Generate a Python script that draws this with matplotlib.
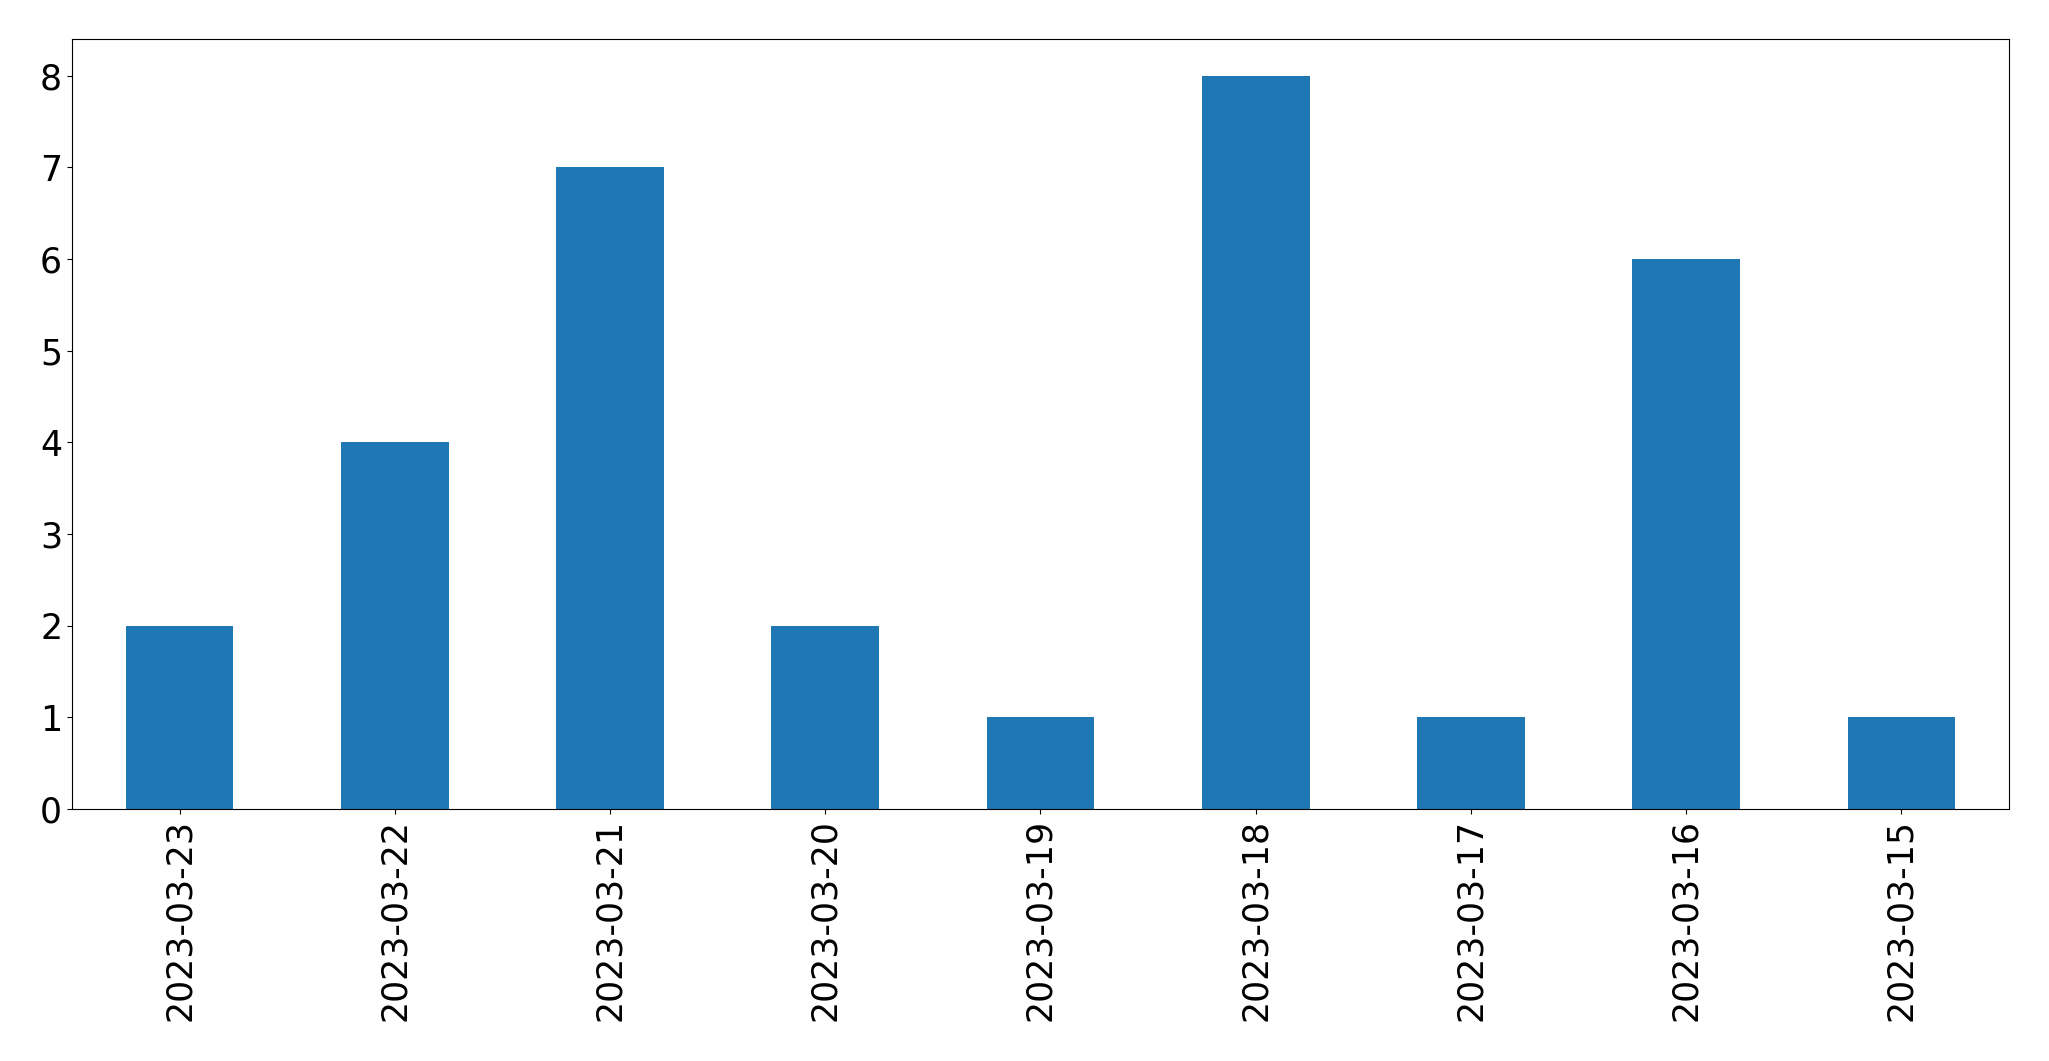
import matplotlib
matplotlib.use("Agg")
import matplotlib.pyplot as plt
import numpy as np

dates = ["2023-03-23", "2023-03-22", "2023-03-21", "2023-03-20", "2023-03-19",
         "2023-03-18", "2023-03-17", "2023-03-16", "2023-03-15"]
counts = [2, 4, 7, 2, 1, 8, 1, 6, 1]

fig = plt.figure(figsize=(20.49, 10.61), dpi=100)
ax = fig.add_axes([0.0351, 0.2375, 0.9454, 0.7257])

x = np.arange(len(dates))
ax.bar(x, counts, width=0.5, color="#1f77b4")
ax.set_xlim(-0.5, len(dates) - 0.5)
ax.set_ylim(0, max(counts) * 1.05)
ax.set_xticks(x)
ax.set_xticklabels(dates, rotation=90)
ax.tick_params(labelsize=25)

fig.savefig("out.png", dpi=100)
